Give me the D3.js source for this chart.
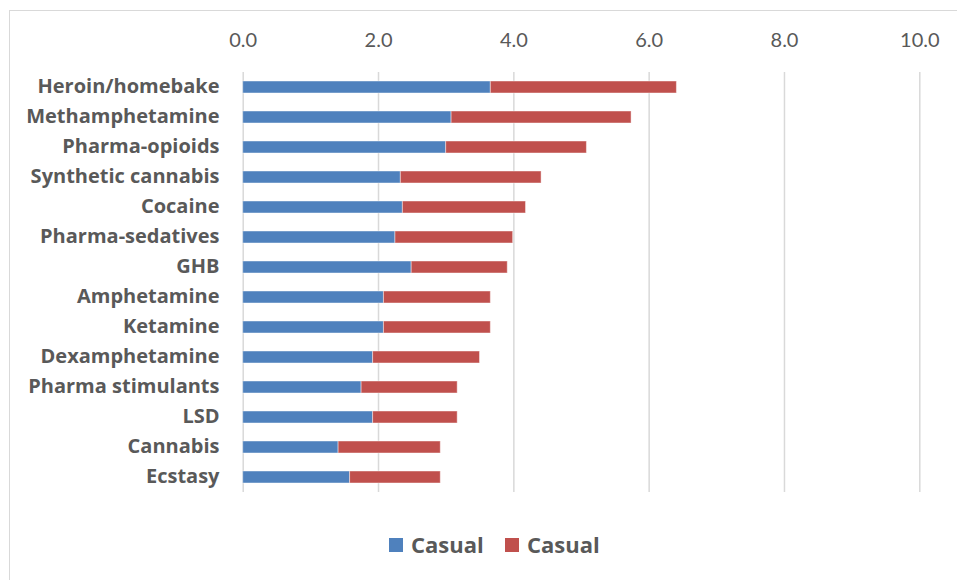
<!DOCTYPE html>
<html>
<head>
<meta charset="utf-8">
<script src="https://cdn.jsdelivr.net/npm/d3@7"></script>
<style>
  html, body { margin: 0; padding: 0; background: #fff; }
  svg { display: block; }
</style>
</head>
<body>
<svg id="chart" width="957" height="580"></svg>
<script>
// Drug categories, top to bottom
const categories = [
  "Heroin/homebake", "Methamphetamine", "Pharma-opioids", "Synthetic cannabis",
  "Cocaine", "Pharma-sedatives", "GHB", "Amphetamine", "Ketamine",
  "Dexamphetamine", "Pharma stimulants", "LSD", "Cannabis", "Ecstasy"
];
// First stacked segment
const seriesA = [3.66, 3.08, 3.00, 2.33, 2.36, 2.25, 2.49, 2.08, 2.08, 1.92, 1.75, 1.92, 1.41, 1.58];
// Second stacked segment
const seriesB = [2.75, 2.66, 2.08, 2.08, 1.82, 1.74, 1.42, 1.58, 1.58, 1.58, 1.42, 1.25, 1.51, 1.34];
const seriesNames = ["Casual", "Casual"];
const seriesColors = ["#4f81bd", "#c0504d"];
const tickValues = [0, 2, 4, 6, 8, 10];

const svg = d3.select("#chart");
const tickFont = "Lato, 'Open Sans', sans-serif";
const labelFont = "'Open Sans', Lato, sans-serif";
const textColor = "#595959";

// Outer chart frame
svg.append("rect")
  .attr("x", 9.5).attr("y", 10.5)
  .attr("width", 960).attr("height", 590)
  .attr("fill", "none").attr("stroke", "#d9d9d9").attr("stroke-width", 1);

const x = d3.scaleLinear().domain([0, 10]).range([242.7, 919.3]);
const y = d3.scaleBand().domain(categories).range([72, 492])
  .paddingInner(0.6).paddingOuter(0.3);

// Vertical gridlines and top tick labels
const xAxis = d3.axisTop(x).tickValues(tickValues)
  .tickFormat(d3.format(".1f")).tickSize(-(492 - 72)).tickPadding(0);
const gx = svg.append("g").attr("transform", "translate(0,72)").call(xAxis);
gx.select(".domain").remove();
gx.selectAll(".tick line").attr("stroke", "#d9d9d9").attr("stroke-width", 1.5);
gx.selectAll(".tick text")
  .attr("y", -32).attr("dy", "0.35em")
  .attr("fill", textColor)
  .style("font-family", tickFont).style("font-size", "20px");

// Stacked bars
const rows = categories.map((c, i) => ({ cat: c, a: seriesA[i], b: seriesB[i] }));
const stack = d3.stack().keys(["a", "b"])(rows);

svg.append("g").selectAll("g")
  .data(stack).join("g")
  .attr("fill", (d, i) => seriesColors[i])
  .selectAll("rect")
  .data(d => d).join("rect")
  .attr("x", d => x(d[0]))
  .attr("y", d => y(d.data.cat))
  .attr("width", d => x(d[1]) - x(d[0]))
  .attr("height", y.bandwidth())
  .attr("stroke", "rgba(255,255,255,0.45)")
  .attr("stroke-width", 1);

// Category labels
const yAxis = d3.axisLeft(y).tickSize(0).tickPadding(0);
const gy = svg.append("g").attr("transform", "translate(219.5,0)").call(yAxis);
gy.select(".domain").remove();
gy.selectAll(".tick text")
  .attr("fill", textColor)
  .style("font-family", labelFont).style("font-size", "20px").style("font-weight", "bold");

// Legend
const legend = svg.append("g");
const legendX = [389, 505];
seriesNames.forEach((name, i) => {
  legend.append("rect")
    .attr("x", legendX[i]).attr("y", 538)
    .attr("width", 14).attr("height", 14)
    .attr("fill", seriesColors[i]);
  legend.append("text")
    .attr("x", legendX[i] + 22).attr("y", 545).attr("dy", "0.35em")
    .attr("fill", textColor)
    .style("font-family", labelFont).style("font-size", "22px").style("font-weight", "bold")
    .text(name);
});
</script>
</body>
</html>
